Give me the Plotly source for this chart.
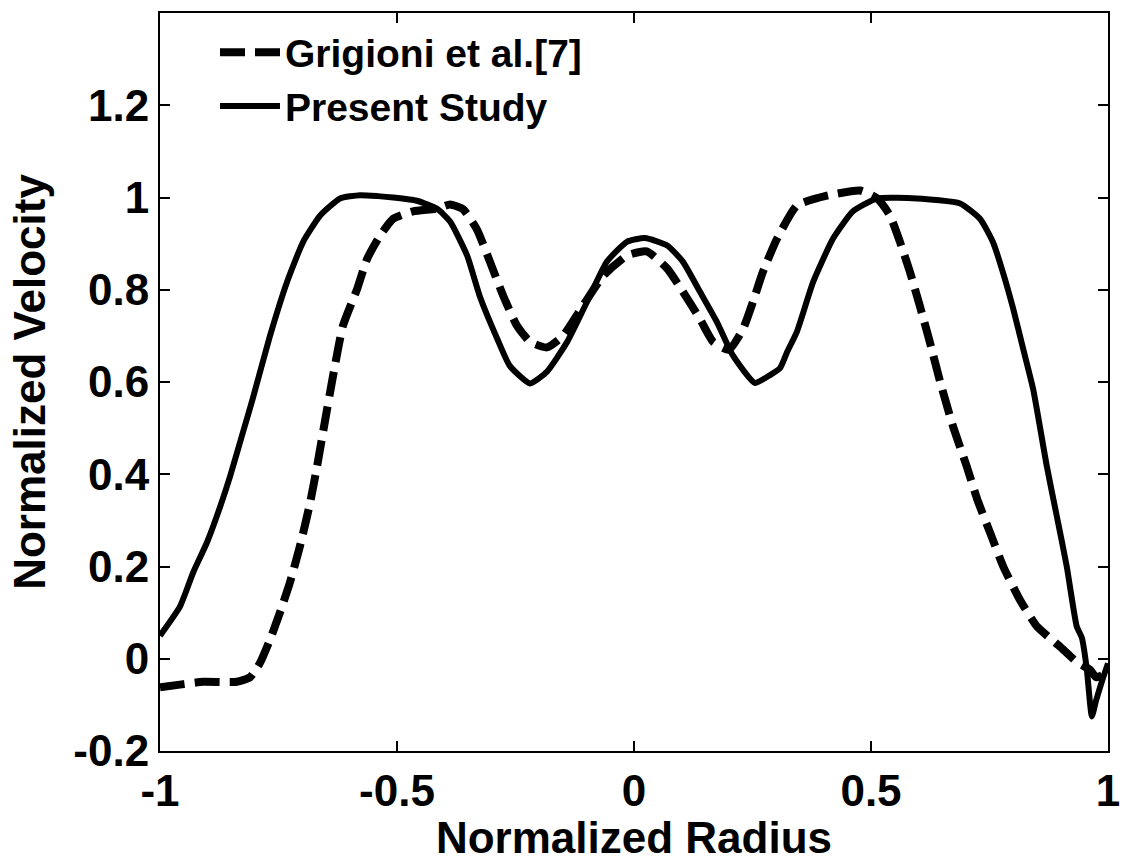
import plotly.graph_objects as go

# Present Study (solid)
solid_x = [-1.0, -0.958, -0.93, -0.901, -0.873, -0.852, -0.825, -0.804, -0.768, -0.732,
           -0.698, -0.662, -0.62, -0.578, -0.54, -0.508, -0.458, -0.416, -0.388, -0.352,
           -0.325, -0.289, -0.262, -0.219, -0.184, -0.141, -0.099, -0.057, -0.015, 0.023,
           0.070, 0.103, 0.139, 0.175, 0.209, 0.255, 0.287, 0.308, 0.323, 0.344, 0.378,
           0.420, 0.462, 0.513, 0.597, 0.688, 0.730, 0.757, 0.778, 0.800, 0.821, 0.842,
           0.871, 0.892, 0.913, 0.934, 0.945, 0.955, 0.966, 0.975, 0.99, 1.0]
solid_y = [0.05, 0.113, 0.187, 0.252, 0.33, 0.396, 0.491, 0.565, 0.70, 0.817,
           0.904, 0.961, 0.998, 1.005, 1.003, 1.0, 0.993, 0.976, 0.948, 0.874,
           0.785, 0.695, 0.635, 0.597, 0.622, 0.687, 0.774, 0.861, 0.904, 0.912,
           0.896, 0.861, 0.796, 0.730, 0.657, 0.598, 0.615, 0.63, 0.665, 0.71, 0.817,
           0.911, 0.970, 0.998, 0.998, 0.987, 0.954, 0.904, 0.839, 0.759, 0.672, 0.585,
           0.417, 0.309, 0.2, 0.07, 0.045, -0.02, -0.125, -0.09, -0.04, -0.01]

# Grigioni et al.[7] (dashed)
dash_x = [-1.0, -0.95, -0.909, -0.838, -0.81, -0.789, -0.768, -0.747, -0.726, -0.705,
          -0.684, -0.669, -0.652, -0.635, -0.614, -0.584, -0.563, -0.536, -0.508, -0.466,
          -0.416, -0.388, -0.361, -0.331, -0.304, -0.276, -0.247, -0.219, -0.184, -0.150,
          -0.108, -0.065, -0.015, 0.027, 0.070, 0.103, 0.139, 0.167, 0.200, 0.230,
          0.251, 0.272, 0.302, 0.344, 0.407, 0.477, 0.513, 0.540, 0.561, 0.582,
          0.603, 0.624, 0.646, 0.673, 0.702, 0.724, 0.751, 0.779, 0.814, 0.850,
          0.899, 0.934, 0.962, 0.975, 0.989, 1.0]
dash_y = [-0.062, -0.055, -0.05, -0.05, -0.04, -0.009, 0.041, 0.1, 0.165, 0.243,
          0.335, 0.415, 0.515, 0.613, 0.722, 0.802, 0.867, 0.917, 0.954, 0.970,
          0.976, 0.985, 0.975, 0.93, 0.861, 0.787, 0.722, 0.687, 0.675, 0.70,
          0.765, 0.830, 0.874, 0.883, 0.846, 0.796, 0.737, 0.687, 0.670, 0.715,
          0.774, 0.839, 0.911, 0.983, 1.004, 1.015, 0.998, 0.961, 0.904, 0.839,
          0.765, 0.687, 0.6, 0.504, 0.417, 0.346, 0.274, 0.2, 0.128, 0.070,
          0.026, -0.007, -0.024, -0.04, -0.035, -0.02]

x_ticks = [-1, -0.5, 0, 0.5, 1]
x_ticklabels = ["-1", "-0.5", "0", "0.5", "1"]
y_ticks = [-0.2, 0, 0.2, 0.4, 0.6, 0.8, 1.0, 1.2]
y_ticklabels = ["-0.2", "0", "0.2", "0.4", "0.6", "0.8", "1", "1.2"]

FONT = "Liberation Sans, Arial, sans-serif"

fig = go.Figure()
fig.add_trace(go.Scatter(x=dash_x, y=dash_y, mode="lines", name="Grigioni et al.[7]",
                         line=dict(color="black", width=8, dash="25px,10px",
                                   shape="spline", smoothing=0.5)))
fig.add_trace(go.Scatter(x=solid_x, y=solid_y, mode="lines", name="Present Study",
                         line=dict(color="black", width=6, shape="spline", smoothing=0.5)))

axis_common = dict(showgrid=False, zeroline=False, showline=True, linecolor="black",
                   linewidth=2, mirror="ticks", ticks="inside", ticklen=10,
                   tickwidth=1.5, tickcolor="black", automargin=False,
                   tickfont=dict(family=FONT, size=44, color="black", weight="bold"))

fig.update_layout(
    width=1121, height=862,
    margin=dict(l=160, r=13, t=13, b=111),
    paper_bgcolor="white", plot_bgcolor="white",
    font=dict(family=FONT, color="black"),
    xaxis=dict(range=[-1, 1], tickvals=x_ticks, ticktext=x_ticklabels,
               title=dict(text="Normalized Radius", standoff=6,
                          font=dict(family=FONT, size=44, color="black", weight="bold")),
               **axis_common),
    yaxis=dict(range=[-0.2, 1.4], tickvals=y_ticks, ticktext=y_ticklabels,
               title=dict(text="Normalized Velocity", standoff=14,
                          font=dict(family=FONT, size=44, color="black", weight="bold")),
               **axis_common),
    legend=dict(x=0.058, y=0.99, xanchor="left", yanchor="top", bgcolor="rgba(0,0,0,0)",
                font=dict(family=FONT, size=39, color="black", weight="bold"),
                itemwidth=60, tracegroupgap=0),
    showlegend=True,
)

fig.write_html("out.html")
